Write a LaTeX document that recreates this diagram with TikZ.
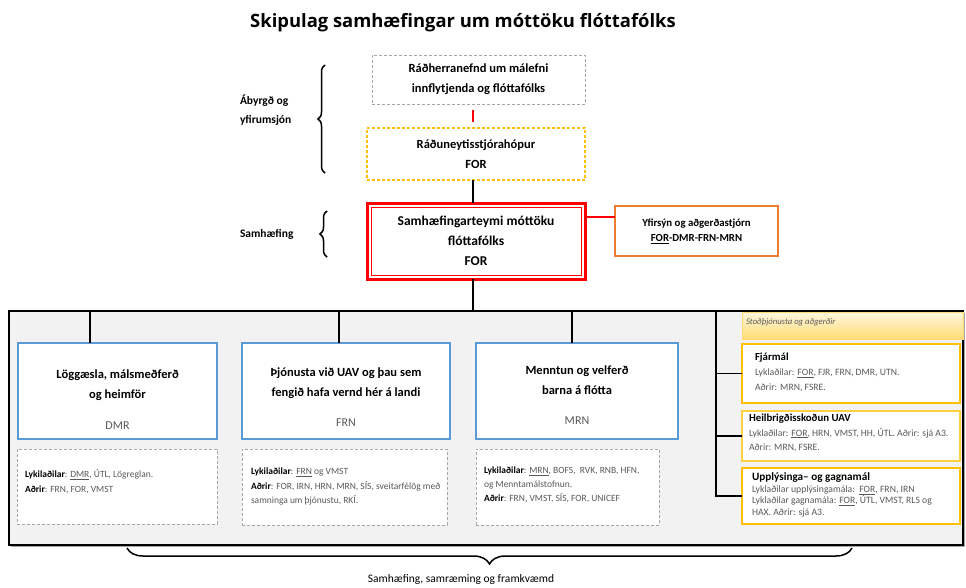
\documentclass[tikz,border=0pt]{standalone}
\usepackage{fontspec}
\setmainfont{Carlito}
\newfontfamily\titlefont{Open Sans}
\usetikzlibrary{decorations.pathreplacing,shadows,calc}
\definecolor{blu}{HTML}{5B9BD5}
\definecolor{org}{HTML}{ED7D31}
\definecolor{ylw}{HTML}{FFC000}
\definecolor{dgray}{HTML}{A6A6A6}
\definecolor{cfill}{HTML}{F2F2F2}
\definecolor{txtg}{HTML}{595959}
\newcommand\bxf{\fontsize{12.5}{20}\selectfont\bfseries}
\newcommand\smf{\fontsize{9.5}{14.5}\selectfont}
\begin{document}
\begin{tikzpicture}[x=1pt,y=-1pt,
  every node/.style={outer sep=0pt,inner sep=0pt},
  conn/.style={line width=1.6pt,black},
  redline/.style={line width=1.6pt,red},
  dashgray/.style={draw=dgray,dashed,dash pattern=on 3pt off 2pt,line width=1pt,fill=white},
  dashylw/.style={draw=ylw,dashed,dash pattern=on 3pt off 2pt,line width=1.3pt,fill=white},
  bluebox/.style={draw=blu,line width=2.6pt,fill=white},
  ybox/.style={draw=ylw,line width=2.4pt,fill=white},
  ythin/.style={draw=ylw!75,line width=1.5pt,fill=white},
  brc/.style={decorate,line width=1.5pt},
  lbl/.style={font=\fontsize{11.5}{19}\selectfont\bfseries,align=left,anchor=west},
  dtext/.style={font=\smf,text=txtg,align=left,anchor=north west},
  ytext/.style={text=txtg,align=left,anchor=north west},
]
\useasboundingbox (0,0) rectangle (966,587);

\node[font=\titlefont\bfseries\fontsize{18.4}{22}\selectfont,anchor=base] (title) at (463,27) {Skipulag samhæfingar um móttöku flóttafólks};

% top boxes
\coordinate (cline) at (473,0);
\node[dashgray,minimum width=213,minimum height=49,anchor=north west,align=center,font=\bxf] (rad) at (372,55) {Ráðherranefnd um málefni\\innflytjenda og flóttafólks};
\node[dashylw,minimum width=218,minimum height=52,anchor=north west,align=center,font=\bxf] (ryh) at (367,128) {Ráðuneytisstjórahópur\\FOR};
\draw[redline,shorten <=6pt,shorten >=6pt] (rad.south -| cline) -- (ryh.north -| cline);

\node[draw=red,line width=3pt,fill=white,minimum width=218,minimum height=76,anchor=north west,align=center,font=\fontsize{13.5}{20}\selectfont\bfseries] (sam) at (367,203) {Samhæfingarteymi móttöku\\flóttafólks\\FOR};
\draw[red,line width=0.8pt] ([shift={(4,4)}]sam.north west) rectangle ([shift={(-4,-4)}]sam.south east);
\draw[conn] (ryh.south -| cline) -- (sam.north -| cline);

\node[draw=org,line width=2.6pt,fill=white,minimum width=163,minimum height=50,anchor=north west,align=center,font=\fontsize{10.8}{15}\selectfont\bfseries] (ovs) at (615,206) {Yfirsýn og aðgerðastjórn\\\underline{FOR}-DMR-FRN-MRN};
\coordinate (ry) at (0,217);
\draw[redline] (sam.east |- ry) -- (ovs.west |- ry);

% left labels and braces
\node[lbl] (abyrgd) at (240,110) {Ábyrgð og\\yfirumsjón};
\draw[brc,decoration={brace,amplitude=7pt}] (325,173) -- (325,65);
\node[lbl] (samlbl) at (240,234) {Samhæfing};
\draw[brc,decoration={brace,amplitude=7pt}] (327,257) -- (327,211);

% container
\node[fill=cfill,draw=black,line width=1.2pt,minimum width=954,minimum height=234,anchor=north west,
  drop shadow={shadow xshift=1.5pt,shadow yshift=-2pt,fill=black!70}] (cont) at (9,311) {};
\draw[conn] (sam.south -| cline) -- (cont.north -| cline);

% blue boxes
\node[bluebox,minimum width=199,minimum height=96,anchor=north west] (dmr) at (18,343) {};
\node[bluebox,minimum width=208,minimum height=96,anchor=north west] (frn) at (242,343) {};
\node[bluebox,minimum width=202,minimum height=96,anchor=north west] (mrn) at (476,343) {};
\node[font=\bxf,align=center] (dmrt) at ($(dmr.north)+(0,42)$) {Löggæsla, málsmeðferð\\og heimför};
\node[font=\fontsize{12}{14}\selectfont,text=txtg] (dmrl) at ($(dmr.south)+(0,-13)$) {DMR};
\node[font=\bxf,align=center] (frnt) at ($(frn.north)+(0,40)$) {Þjónusta við UAV og þau sem\\fengið hafa vernd hér á landi};
\node[font=\fontsize{12}{14}\selectfont,text=txtg] (frnl) at ($(frn.south)+(0,-16)$) {FRN};
\node[font=\bxf,align=center] (mrnt) at ($(mrn.north)+(0,37.5)$) {Menntun og velferð\\barna á flótta};
\node[font=\fontsize{12}{14}\selectfont,text=txtg] (mrnl) at ($(mrn.south)+(0,-18)$) {MRN};

\coordinate (c1) at (90,0);
\coordinate (c2) at (339,0);
\coordinate (c3) at (572,0);
\draw[conn] (cont.north -| c1) -- (dmr.north -| c1);
\draw[conn] (cont.north -| c2) -- (frn.north -| c2);
\draw[conn] (cont.north -| c3) -- (mrn.north -| c3);

% dashed boxes
\node[dashgray,minimum width=200,minimum height=75,anchor=north west] (dmrd) at (17,449) {};
\node[dashgray,minimum width=205,minimum height=76,anchor=north west] (frnd) at (242,449) {};
\node[dashgray,minimum width=183,minimum height=76,anchor=north west] (mrnd) at (476,449) {};
\node[dtext] (dmrdt) at (25,470) {\textcolor{black}{\textbf{Lykilaðilar}}: \underline{DMR}, ÚTL, Lögreglan.\\\textcolor{black}{\textbf{Aðrir}}: FRN, FOR, VMST};
\node[dtext] (frndt) at (251,468) {\textcolor{black}{\textbf{Lykilaðilar}}: \underline{FRN} og VMST\\\textcolor{black}{\textbf{Aðrir}}: FOR, IRN, HRN, MRN, SÍS, sveitarfélög með\\samninga um þjónustu, RKÍ.};
\node[dtext,font=\fontsize{9.5}{14}\selectfont] (mrndt) at (484,467) {\textcolor{black}{\textbf{Lykilaðilar}}: \underline{MRN}, BOFS,\ \ RVK, RNB, HFN,\\og Menntamálstofnun.\\\textcolor{black}{\textbf{Aðrir}}: FRN, VMST, SÍS, FOR, UNICEF};

% right panel
\node[top color=ylw!12,bottom color=ylw!55,draw=ylw!55,line width=0.6pt,minimum width=221,minimum height=27,anchor=north west] (hdr) at (742,312) {};
\node[font=\fontsize{8.7}{10}\selectfont\itshape,text=txtg,anchor=west] (hdrt) at (746,322) {Stoðþjónusta og aðgerðir};

\node[ybox,minimum width=218,minimum height=59,anchor=north west] (fin) at (742,344) {};
\node[ytext,font=\fontsize{9.7}{15}\selectfont] (fint) at (755,353) {\textcolor{black}{\fontsize{10.8}{15}\selectfont\bfseries Fjármál}\\Lyklaðilar: \underline{FOR}, FJR, FRN, DMR, UTN.\\Aðrir: MRN, FSRE.};

\node[ythin,minimum width=218,minimum height=50,anchor=north west] (heil) at (742,411) {};
\node[ytext,font=\fontsize{9.7}{14.5}\selectfont] (heilt) at (749,414) {\textcolor{black}{\fontsize{10.8}{14.5}\selectfont\bfseries Heilbrigðisskoðun UAV}\\Lyklaðilar: \underline{FOR}, HRN, VMST, HH, ÚTL. Aðrir: sjá A3.\\Aðrir: MRN, FSRE.};

\node[ybox,minimum width=218,minimum height=56,anchor=north west] (upp) at (742,468) {};
\node[ytext,font=\fontsize{9.7}{11.5}\selectfont] (uppt) at (752,473) {\textcolor{black}{\fontsize{11.2}{11.5}\selectfont\bfseries Upplýsinga– og gagnamál}\\Lyklaðilar upplýsingamála:\ \ \underline{FOR}, FRN, IRN\\Lyklaðilar gagnamála: \underline{FOR}, ÚTL, VMST, RLS og\\HAX. Aðrir: sjá A3.};

\coordinate (rt) at (716,0);
\draw[conn] (cont.north -| rt) |- (upp.west);
\draw[conn] (fin.west) -- (fin.west -| rt);
\draw[conn] (heil.west) -- (heil.west -| rt);

% bottom brace
\coordinate (bl) at (127,548);
\coordinate (br) at (852,548);
\draw[brc,decoration={brace,amplitude=16pt,mirror}] (bl) -- (br);
\node[font=\fontsize{11.5}{13}\selectfont,anchor=base] (bt) at (461,582) {Samhæfing, samræming og framkvæmd};
\end{tikzpicture}
\end{document}
